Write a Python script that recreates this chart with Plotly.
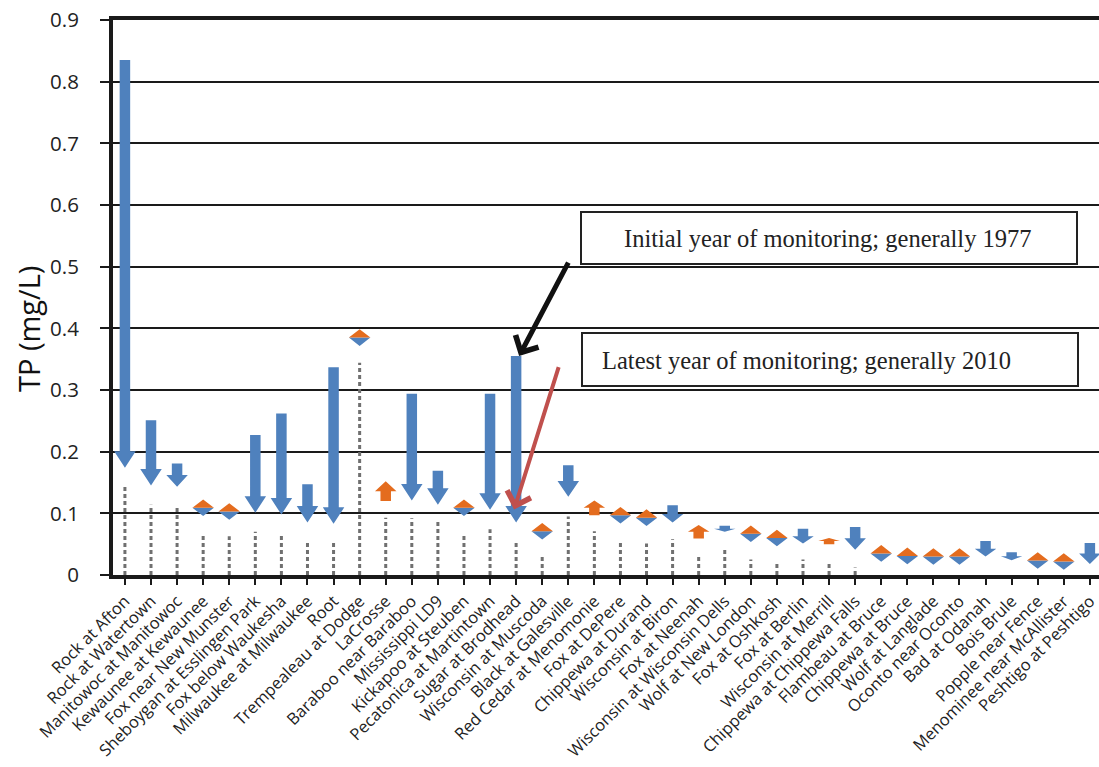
import plotly.graph_objects as go

# Monitoring stations, ordered as plotted
stations = [
    "Rock at Afton", "Rock at Watertown", "Manitowoc at Manitowoc", "Kewaunee at Kewaunee",
    "Fox near New Munster", "Sheboygan at Esslingen Park", "Fox below Waukesha",
    "Milwaukee at Milwaukee", "Root", "Trempealeau at Dodge", "LaCrosse", "Baraboo near Baraboo",
    "Mississippi LD9", "Kickapoo at Steuben", "Pecatonica at Martintown", "Sugar at Brodhead",
    "Wisconsin at Muscoda", "Black at Galesville", "Red Cedar at Menomonie", "Fox at DePere",
    "Chippewa at Durand", "Wisconsin at Biron", "Fox at Neenah", "Wisconsin at Wisconsin Dells",
    "Wolf at New London", "Fox at Oshkosh", "Fox at Berlin", "Wisconsin at Merrill",
    "Chippewa at Chippewa Falls", "Flambeau at Bruce", "Chippewa at Bruce", "Wolf at Langlade",
    "Oconto near Oconto", "Bad at Odanah", "Bois Brule", "Popple near Fence",
    "Menominee near McAllister", "Peshtigo at Peshtigo",
]

# Total phosphorus (mg/L), initial year of monitoring (generally 1977)
tp_initial = [
    0.835, 0.251, 0.181, 0.109, 0.103, 0.227, 0.262, 0.147, 0.337, 0.385,
    0.120, 0.294, 0.169, 0.109, 0.294, 0.355, 0.071, 0.178, 0.097, 0.097,
    0.093, 0.113, 0.059, 0.080, 0.067, 0.060, 0.075, 0.050, 0.078, 0.035,
    0.031, 0.030, 0.030, 0.055, 0.037, 0.0235, 0.022, 0.052,
]

# Total phosphorus (mg/L), latest year of monitoring (generally 2010)
tp_latest = [
    0.174, 0.145, 0.143, 0.109, 0.103, 0.101, 0.098, 0.085, 0.083, 0.385,
    0.152, 0.121, 0.114, 0.109, 0.106, 0.085, 0.071, 0.127, 0.121, 0.097,
    0.093, 0.085, 0.081, 0.070, 0.067, 0.060, 0.051, 0.060, 0.041, 0.035,
    0.031, 0.030, 0.030, 0.030, 0.024, 0.0235, 0.022, 0.018,
]

# Reference TP level shown as a dotted drop line (none for the northern sites)
tp_reference = [
    0.144, 0.114, 0.112, 0.067, 0.063, 0.070, 0.068, 0.056, 0.053, 0.344,
    0.093, 0.092, 0.087, 0.067, 0.074, 0.055, 0.031, 0.095, 0.071, 0.056,
    0.051, 0.058, 0.033, 0.045, 0.025, 0.019, 0.025, 0.022, 0.012, None,
    None, None, None, None, None, None, None, None,
]

y_tick_values = [0, 0.1, 0.2, 0.3, 0.4, 0.5, 0.6, 0.7, 0.8, 0.9]
y_tick_labels = ["0", "0.1", "0.2", "0.3", "0.4", "0.5", "0.6", "0.7", "0.8", "0.9"]

BLUE = "#4F81BD"
ORANGE = "#E46C1E"
GREY = "#707070"
INK = "#1A1A1A"

# ---- layout geometry -------------------------------------------------------
W, H = 1099, 767
M_L, M_R, M_T, M_B = 113, 0, 20, 192
X_RANGE = [-0.457, 37.35]
Y_RANGE = [0.0, 0.9]
PLOT_W = W - M_L - M_R
PLOT_H = H - M_T - M_B
px_per_x = PLOT_W / (X_RANGE[1] - X_RANGE[0])
px_per_y = PLOT_H / (Y_RANGE[1] - Y_RANGE[0])


def dx(p):
    return p / px_per_x


def dy(p):
    return p / px_per_y


def paper_x(px):
    return (px - M_L) / PLOT_W


def paper_y(py):
    return (H - M_B - py) / PLOT_H


# arrow proportions in screen pixels
SHAFT_PX = 10.5
HEAD_W_PX = 21.5
HEAD_H_PX = 16.5
HALF_DIAMOND_PX = 8.3

blue_x, blue_y, orange_x, orange_y = [], [], [], []


def add_poly(xs, ys, pts):
    for px_, py_ in pts:
        xs.append(px_)
        ys.append(py_)
    xs.append(pts[0][0])
    ys.append(pts[0][1])
    xs.append(None)
    ys.append(None)


for i, (start, end) in enumerate(zip(tp_initial, tp_latest)):
    sw = dx(SHAFT_PX) / 2
    hw = dx(HEAD_W_PX) / 2
    if start == end:
        # no change: opposing heads meet at the value
        h = dy(HALF_DIAMOND_PX)
        add_poly(orange_x, orange_y, [(i - hw, end), (i + hw, end), (i, end + h)])
        add_poly(blue_x, blue_y, [(i - hw, end), (i + hw, end), (i, end - h)])
        continue
    direction = 1 if end > start else -1
    head = min(dy(HEAD_H_PX), abs(end - start) / 2)
    base = end - direction * head
    pts = [
        (i - sw, start), (i + sw, start), (i + sw, base), (i + hw, base),
        (i, end), (i - hw, base), (i - sw, base),
    ]
    if direction > 0:
        add_poly(orange_x, orange_y, pts)
    else:
        add_poly(blue_x, blue_y, pts)

ref_x, ref_y = [], []
for i, v in enumerate(tp_reference):
    if v is None:
        continue
    ref_x += [i, i, None]
    ref_y += [0, v, None]

fig = go.Figure()
fig.add_trace(go.Scatter(
    x=ref_x, y=ref_y, mode="lines", hoverinfo="skip",
    line=dict(color=GREY, width=3, dash="4px,3px"),
))
fig.add_trace(go.Scatter(
    x=blue_x, y=blue_y, mode="lines", fill="toself", fillcolor=BLUE,
    line=dict(width=0, color=BLUE), hoverinfo="skip",
))
fig.add_trace(go.Scatter(
    x=orange_x, y=orange_y, mode="lines", fill="toself", fillcolor=ORANGE,
    line=dict(width=0, color=ORANGE), hoverinfo="skip",
))

# ---- callout boxes ---------------------------------------------------------
boxes = [
    dict(x0=581, x1=1077, y0=212, y1=264),
    dict(x0=582, x1=1078, y0=333, y1=386),
]
shapes = []
for b in boxes:
    shapes.append(dict(
        type="rect", xref="paper", yref="paper",
        x0=paper_x(b["x0"]), x1=paper_x(b["x1"]),
        y0=paper_y(b["y1"]), y1=paper_y(b["y0"]),
        line=dict(color="#222222", width=2), fillcolor="white", layer="above",
    ))

serif = dict(family="Liberation Serif", size=24.5, color="#222222")
annotations = [
    dict(text="Initial year of monitoring; generally 1977", xref="paper", yref="paper",
         x=paper_x(828), y=paper_y(239), xanchor="center", yanchor="middle",
         showarrow=False, font=serif),
    dict(text="Latest year of monitoring; generally 2010", xref="paper", yref="paper",
         x=paper_x(600), y=paper_y(360), xanchor="left", yanchor="middle",
         showarrow=False, font=serif),
    # pointer to the starting value of Sugar at Brodhead
    dict(text="", x=15, y=tp_initial[15], xref="x", yref="y", xshift=3,
         showarrow=True, arrowhead=4, arrowsize=1.0, arrowwidth=5, arrowcolor="#111111",
         ax=50, ay=-95),
    # pointer to the latest value of Sugar at Brodhead
    dict(text="", x=15, y=tp_latest[15], xref="x", yref="y", xshift=-2, yshift=13,
         showarrow=True, arrowhead=4, arrowsize=1.2, arrowwidth=4, arrowcolor="#C0504D",
         ax=45, ay=-144),
    # y-axis title
    dict(text="TP (mg/L)", xref="paper", yref="paper", x=paper_x(28), y=paper_y(329),
         xanchor="center", yanchor="middle", textangle=-90, showarrow=False,
         font=dict(family="Open Sans", size=29, color="#111111")),
]

fig.update_layout(
    width=W, height=H,
    margin=dict(l=M_L, r=M_R, t=M_T, b=M_B, pad=0, autoexpand=False),
    paper_bgcolor="white", plot_bgcolor="white",
    showlegend=False,
    shapes=shapes, annotations=annotations,
    xaxis=dict(
        range=X_RANGE, tickmode="array", tickvals=list(range(len(stations))),
        ticktext=stations, tickangle=-45, ticklabeloverflow="allow", automargin=False,
        tickfont=dict(family="Open Sans", size=16.5, color="#222222"),
        showgrid=False, zeroline=False,
        showline=True, linecolor=INK, linewidth=4, mirror=True,
        ticks="outside", ticklen=6, tickwidth=2, tickcolor=INK,
    ),
    yaxis=dict(
        range=Y_RANGE, tickmode="array", tickvals=y_tick_values, ticktext=y_tick_labels,
        automargin=False,
        tickfont=dict(family="Open Sans", size=20.5, color="#222222"),
        showgrid=True, gridcolor=INK, gridwidth=1.5, zeroline=False,
        showline=True, linecolor=INK, linewidth=4,
        ticks="outside", ticklen=9, tickwidth=2, tickcolor=INK,
        ticklabelstandoff=17,
    ),
)

fig.write_html("out.html")
